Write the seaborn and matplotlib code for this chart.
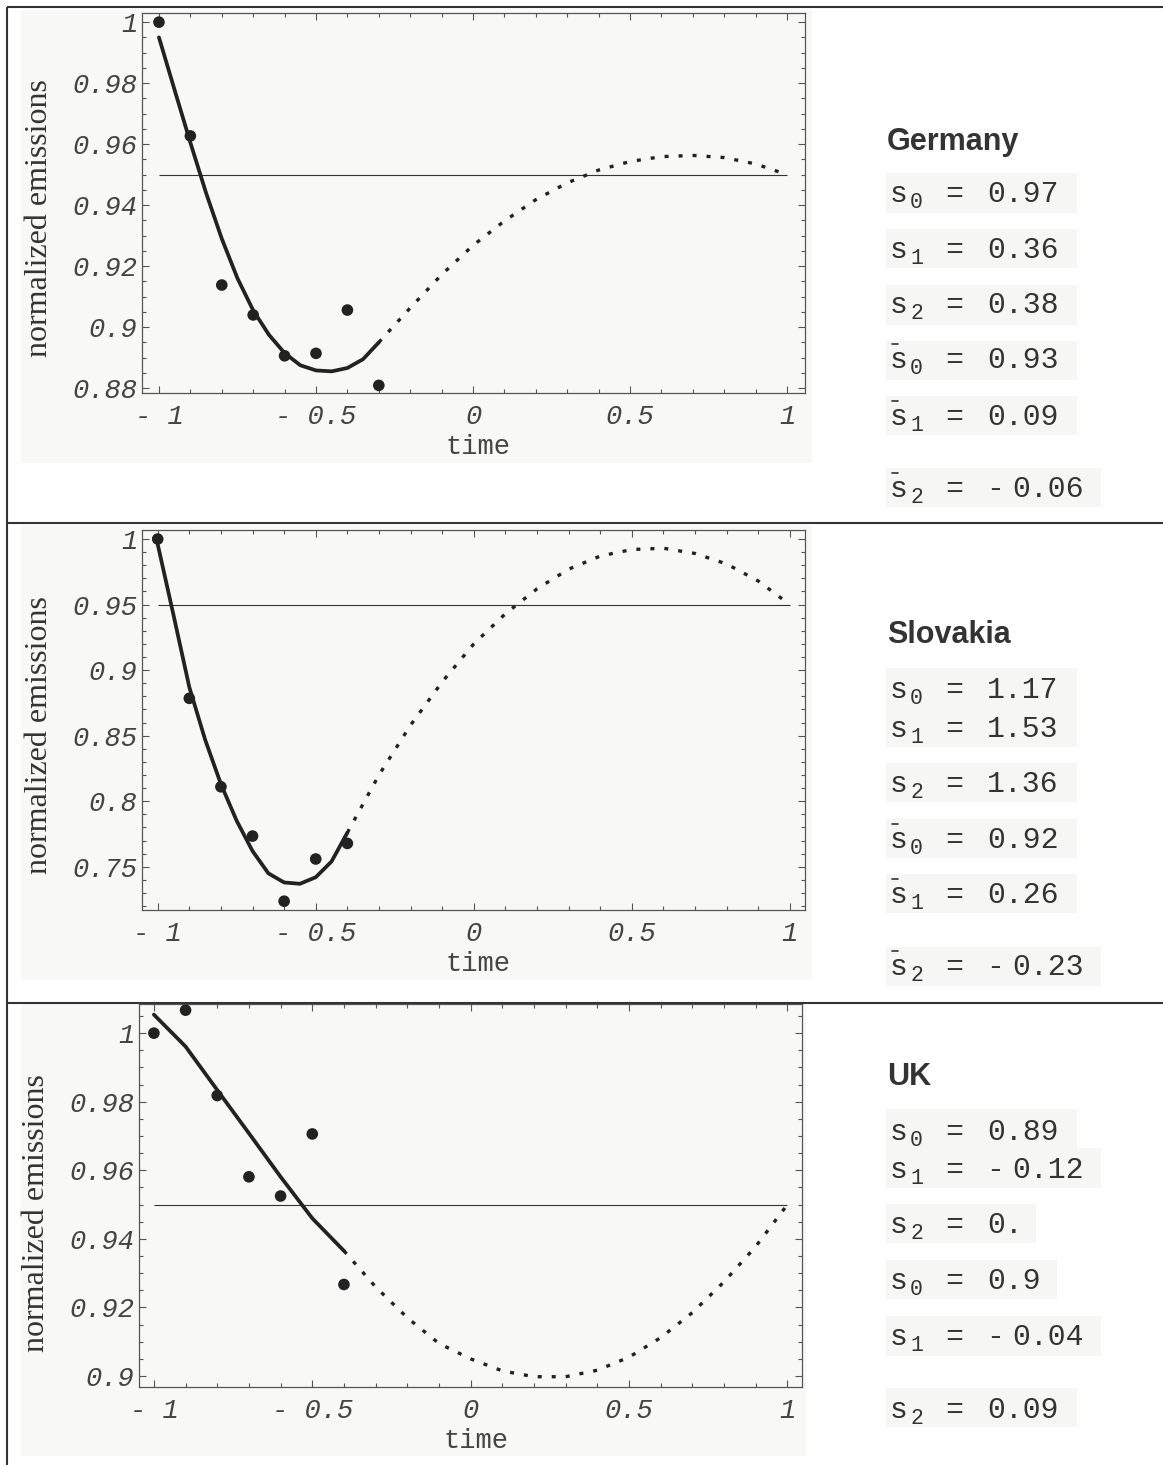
import matplotlib
matplotlib.use("Agg")
import matplotlib.pyplot as plt
import seaborn as sns
from matplotlib.patches import Rectangle
from matplotlib.lines import Line2D
from matplotlib.ticker import FixedLocator, FixedFormatter, MultipleLocator

# ---------------------------------------------------------------- data
obs_t8 = [-1.0, -0.9, -0.8, -0.7, -0.6, -0.5, -0.4, -0.3]
obs_t7 = [-1.0, -0.9, -0.8, -0.7, -0.6, -0.5, -0.4]

germany_obs = [1.000, 0.9627, 0.9138, 0.9040, 0.8906, 0.8914, 0.9056, 0.8809]
slovakia_obs = [1.000, 0.8785, 0.8110, 0.7734, 0.7237, 0.7559, 0.7678]
uk_obs = [1.000, 1.0067, 0.9818, 0.9581, 0.9525, 0.9706, 0.9267]

# fitted curve over the observed period
germany_fit_t = [-1.0, -0.95, -0.9, -0.85, -0.8, -0.75, -0.7, -0.65, -0.6,
                 -0.55, -0.5, -0.45, -0.4, -0.35, -0.3]
germany_fit = [0.9950, 0.9777, 0.9605, 0.9440, 0.9290, 0.9160, 0.9055, 0.8975,
               0.8915, 0.8875, 0.8858, 0.8855, 0.8866, 0.8895, 0.8950]
slovakia_fit_t = [-1.0, -0.95, -0.9, -0.85, -0.8, -0.75, -0.7, -0.65, -0.6,
                  -0.55, -0.5, -0.45, -0.4]
slovakia_fit = [0.996, 0.942, 0.887, 0.847, 0.813, 0.785, 0.762, 0.745, 0.738,
                0.737, 0.742, 0.754, 0.776]
uk_fit_t = [-1.0, -0.9, -0.8, -0.7, -0.6, -0.5, -0.4]
uk_fit = [1.0054, 0.9961, 0.9834, 0.9708, 0.9581, 0.9460, 0.9365]

# projected path towards the target
germany_proj_t = [-0.3, -0.2, -0.1, 0.0, 0.1, 0.2, 0.3, 0.4, 0.5, 0.6, 0.7,
                  0.8, 0.9, 1.0]
germany_proj = [0.8950, 0.9063, 0.9172, 0.9268, 0.9348, 0.9418, 0.9473, 0.9515,
                0.9543, 0.9559, 0.9563, 0.9556, 0.9535, 0.9500]
slovakia_proj_t = [-0.4, -0.3, -0.2, -0.1, 0.0, 0.1, 0.2, 0.3, 0.4, 0.5, 0.6,
                   0.7, 0.8, 0.9, 1.0]
slovakia_proj = [0.776, 0.820, 0.858, 0.891, 0.920, 0.943, 0.962, 0.977, 0.987,
                 0.992, 0.993, 0.989, 0.981, 0.968, 0.950]
uk_proj_t = [-0.4, -0.3, -0.2, -0.1, 0.0, 0.1, 0.2, 0.3, 0.4, 0.5, 0.6, 0.7,
             0.8, 0.9, 1.0]
uk_proj = [0.9365, 0.9260, 0.9170, 0.9095, 0.9050, 0.9015, 0.8998, 0.8998,
           0.9017, 0.9055, 0.9112, 0.9185, 0.9275, 0.9378, 0.9500]

target = 0.95

x_ticks = [-1.0, -0.5, 0.0, 0.5, 1.0]
x_ticklabels = ["- 1", "- 0.5", "0", "0.5", "1"]
germany_yticks = [0.88, 0.90, 0.92, 0.94, 0.96, 0.98, 1.00]
germany_yticklabels = ["0.88", "0.9", "0.92", "0.94", "0.96", "0.98", "1"]
slovakia_yticks = [0.75, 0.80, 0.85, 0.90, 0.95, 1.00]
slovakia_yticklabels = ["0.75", "0.8", "0.85", "0.9", "0.95", "1"]
uk_yticks = [0.90, 0.92, 0.94, 0.96, 0.98, 1.00]
uk_yticklabels = ["0.9", "0.92", "0.94", "0.96", "0.98", "1"]

countries = ["Germany", "Slovakia", "UK"]
germany_params = ["0.97", "0.36", "0.38", "0.93", "0.09", "- 0.06"]
slovakia_params = ["1.17", "1.53", "1.36", "0.92", "0.26", "- 0.23"]
uk_params = ["0.89", "- 0.12", "0.", "0.9", "- 0.04", "0.09"]
param_subs = ["0", "1", "2", "0", "1", "2"]

# ---------------------------------------------------------------- style
W, H = 1163, 1465
INK = "#222222"
TXT = "#333333"
AXC = "#555555"
PANEL = "#f8f8f7"
BOX = "#f6f6f4"
MONO = "Liberation Mono"

sns.set_style("ticks")
plt.rcParams["font.family"] = ["DejaVu Sans"]


def fx(px):
    return px / W


def fy(py):
    return 1 - py / H


fig = plt.figure(figsize=(W / 100, H / 100), dpi=100)
fig.patch.set_facecolor("white")

panels = [
    dict(name="Germany", obs_t=obs_t8, obs=germany_obs,
         fit_t=germany_fit_t, fit=germany_fit,
         proj_t=germany_proj_t, proj=germany_proj,
         yticks=germany_yticks, ylabels=germany_yticklabels, yminor=0.005,
         box=(142, 805, 13, 393), xlim=(-1.054, 1.057), ylim=(0.8784, 1.003),
         bg=(21, 812, 10, 463), ylab=(40, 218), params=germany_params,
         bars=True, title_y=150,
         baselines=[202, 258, 313, 368, 425, 497],
         boxes=[(173, 213, 1077), (229, 268, 1077), (285, 325, 1077),
                (341, 380, 1077), (396, 435, 1077), (468, 507, 1101)]),
    dict(name="Slovakia", obs_t=obs_t7, obs=slovakia_obs,
         fit_t=slovakia_fit_t, fit=slovakia_fit,
         proj_t=slovakia_proj_t, proj=slovakia_proj,
         yticks=slovakia_yticks, ylabels=slovakia_yticklabels, yminor=0.01,
         box=(142, 805, 530, 910), xlim=(-1.0497, 1.048), ylim=(0.717, 1.0069),
         bg=(21, 812, 525, 980), ylab=(40, 735), params=slovakia_params,
         bars=True, title_y=643,
         baselines=[698, 737, 792, 848, 903, 975],
         boxes=[(668, 747, 1077), (763, 802, 1077), (819, 858, 1077),
                (874, 913, 1077), (947, 986, 1101)]),
    dict(name="UK", obs_t=obs_t7, obs=uk_obs,
         fit_t=uk_fit_t, fit=uk_fit,
         proj_t=uk_proj_t, proj=uk_proj,
         yticks=uk_yticks, ylabels=uk_yticklabels, yminor=0.005,
         box=(139, 802, 1004, 1387), xlim=(-1.047, 1.046), ylim=(0.8968, 1.0085),
         bg=(21, 806, 1004, 1456), ylab=(37, 1213), params=uk_params,
         bars=False, title_y=1085,
         baselines=[1140, 1178, 1233, 1289, 1345, 1418],
         boxes=[(1109, 1148, 1077), (1148, 1188, 1101), (1204, 1243, 1036),
                (1260, 1299, 1057), (1316, 1356, 1101), (1388, 1427, 1077)]),
]

for p in panels:
    # light plot background
    x0, x1, y0, y1 = p["bg"]
    fig.add_artist(Rectangle((fx(x0), fy(y1)), (x1 - x0) / W, (y1 - y0) / H,
                             transform=fig.transFigure, facecolor=PANEL,
                             edgecolor="none", zorder=-5))

    l, r, t, b = p["box"]
    ax = fig.add_axes([fx(l), fy(b), (r - l) / W, (b - t) / H])
    ax.set_facecolor(PANEL)

    ax.hlines(target, -1.0, 1.0, color=TXT, lw=0.8, zorder=1)
    sns.lineplot(x=p["fit_t"], y=p["fit"], ax=ax, color=INK, lw=2.7,
                 sort=False, zorder=2)
    sns.lineplot(x=p["proj_t"], y=p["proj"], ax=ax, color=INK, lw=2.4,
                 sort=False, linestyle=(0, (1.2, 3.0)), dash_capstyle="butt",
                 zorder=2)
    sns.scatterplot(x=p["obs_t"], y=p["obs"], ax=ax, s=70, color=INK,
                    edgecolor="none", zorder=4)

    ax.set_xlim(*p["xlim"])
    ax.set_ylim(*p["ylim"])
    ax.xaxis.set_major_locator(FixedLocator(x_ticks))
    ax.xaxis.set_major_formatter(FixedFormatter(x_ticklabels))
    ax.xaxis.set_minor_locator(MultipleLocator(0.1))
    ax.yaxis.set_major_locator(FixedLocator(p["yticks"]))
    ax.yaxis.set_major_formatter(FixedFormatter(p["ylabels"]))
    ax.yaxis.set_minor_locator(MultipleLocator(p["yminor"]))
    ax.tick_params(which="both", direction="in", top=True, right=True,
                   color=AXC, width=0.8)
    ax.tick_params(which="major", length=5)
    ax.tick_params(which="minor", length=3)
    ax.tick_params(axis="x", which="major", pad=8)
    ax.tick_params(axis="y", which="major", pad=3.5)
    for lab in ax.get_xticklabels() + ax.get_yticklabels():
        lab.set_fontfamily(MONO)
        lab.set_fontstyle("italic")
        lab.set_fontsize(19.5)
        lab.set_color("#444444")
    for sp in ax.spines.values():
        sp.set_color(AXC)
        sp.set_linewidth(0.9)
    ax.set_xlabel("")
    ax.set_ylabel("")

    fig.text(fx((l + r) / 2 + 5), fy(b + 61), "time", family=MONO,
             fontsize=19.5, color="#444444", ha="center", va="baseline")
    fig.text(fx(p["ylab"][0]), fy(p["ylab"][1]), "normalized emissions",
             family="Liberation Serif", fontsize=23, color=TXT,
             rotation=90, ha="center", va="center")

    # country name and fitted parameters
    fig.text(fx(887), fy(p["title_y"]), p["name"], family="Liberation Sans",
             fontweight="bold", fontsize=22, color=TXT, ha="left",
             va="baseline")
    for (by0, by1, bx1) in p["boxes"]:
        fig.add_artist(Rectangle((fx(886), fy(by1)), (bx1 - 886) / W,
                                 (by1 - by0) / H, transform=fig.transFigure,
                                 facecolor=BOX, edgecolor="none", zorder=-4))
    for i, (val, sub, base) in enumerate(zip(p["params"], param_subs,
                                             p["baselines"])):
        kw = dict(family=MONO, color=TXT, ha="left", va="baseline")
        fig.text(fx(890), fy(base), "s", fontsize=21.5, **kw)
        fig.text(fx(910), fy(base + 6), sub, fontsize=15.5, **kw)
        fig.text(fx(945), fy(base), "=", fontsize=21.5, **kw)
        if val.startswith("- "):
            fig.text(fx(986), fy(base), "-", fontsize=21.5, **kw)
            fig.text(fx(1012), fy(base), val[2:], fontsize=21.5, **kw)
        else:
            fig.text(fx(987), fy(base), val, fontsize=21.5, **kw)
        if p["bars"] and i >= 3:
            fig.add_artist(Line2D([fx(892), fx(898)],
                                  [fy(base - 24), fy(base - 24)],
                                  color=TXT, lw=1.2))

# table rules
rule = dict(color="#333333", lw=1.5, solid_capstyle="butt", zorder=10)
fig.add_artist(Line2D([fx(7), fx(W)], [fy(7.3), fy(7.3)], **rule))
fig.add_artist(Line2D([fx(7.3), fx(7.3)], [fy(7), fy(H)], **rule))
fig.add_artist(Line2D([fx(7), fx(W)], [fy(523.3), fy(523.3)], **rule))
fig.add_artist(Line2D([fx(7), fx(W)], [fy(1002.7), fy(1002.7)], **rule))

fig.savefig("out.png", dpi=100, facecolor="white")
